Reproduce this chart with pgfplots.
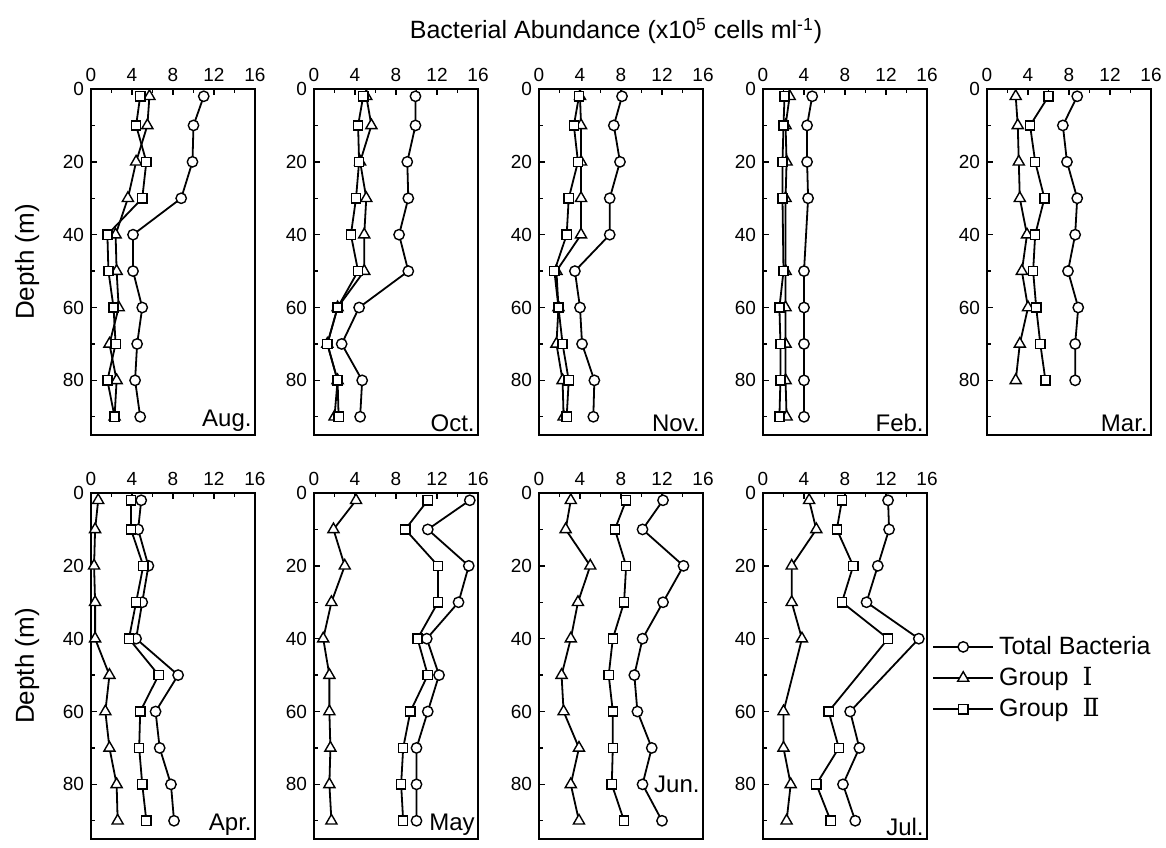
\documentclass[border=0pt]{standalone}
\usepackage{fontspec}
\setmainfont{Liberation Sans}
\newfontfamily\romfont{DejaVu Serif}
\usepackage{pgfplots}
\usepackage{pgfplotstable}
\pgfplotsset{compat=1.18}

% columns: depth, total bacteria, group I, group II
\pgfplotstableread{
d T G1 G2
2 11.0 5.7 4.8
10 10.0 5.5 4.4
20 9.9 4.4 5.4
30 8.8 3.6 5.0
40 4.1 2.4 1.6
50 4.1 2.5 1.7
60 5.0 2.7 2.2
70 4.5 1.8 2.4
80 4.3 2.5 1.6
90 4.8 2.3 2.3
}\aug
\pgfplotstableread{
d T G1 G2
2 9.9 5.1 4.8
10 9.9 5.6 4.3
20 9.1 4.5 4.4
30 9.2 5.1 4.1
40 8.3 4.9 3.6
50 9.2 4.9 4.3
60 4.4 2.3 2.3
70 2.7 1.3 1.3
80 4.7 2.3 2.3
90 4.5 2.0 2.4
}\oct
\pgfplotstableread{
d T G1 G2
2 8.1 4.0 3.9
10 7.3 4.1 3.4
20 7.9 4.1 3.8
30 6.9 4.1 2.9
40 6.9 4.1 2.7
50 3.5 1.7 1.5
60 4.0 1.9 1.9
70 4.2 1.7 2.3
80 5.4 2.3 2.9
90 5.3 2.4 2.7
}\nov
\pgfplotstableread{
d T G1 G2
2 4.8 2.6 2.1
10 4.3 2.2 2.0
20 4.3 2.3 1.9
30 4.4 2.2 1.9
50 4.0 2.2 2.0
60 4.0 2.2 1.6
70 4.0 2.2 1.7
80 4.0 2.2 1.7
90 4.0 2.3 1.6
}\feb
\pgfplotstableread{
d T G1 G2
2 8.8 2.8 6.0
10 7.4 3.0 4.2
20 7.8 3.1 4.7
30 8.8 3.2 5.6
40 8.6 3.9 4.7
50 7.9 3.4 4.5
60 8.9 4.0 4.8
70 8.6 3.2 5.2
80 8.6 2.8 5.7
}\mar
\pgfplotstableread{
d T G1 G2
2 4.9 0.7 3.9
10 4.6 0.4 3.9
20 5.6 0.3 5.1
30 5.0 0.4 4.4
40 4.4 0.4 3.7
50 8.5 1.8 6.6
60 6.3 1.4 4.8
70 6.7 1.8 4.7
80 7.8 2.5 5.0
90 8.1 2.6 5.4
}\apr
\pgfplotstableread{
d T G1 G2
2 15.2 4.1 11.1
10 11.1 1.9 8.9
20 15.1 3.0 12.1
30 14.1 1.7 12.1
40 11.0 0.9 10.1
50 12.2 1.5 11.1
60 11.1 1.5 9.4
70 10.0 1.6 8.7
80 10.0 1.5 8.5
90 10.0 1.7 8.7
}\may
\pgfplotstableread{
d T G1 G2
2 12.1 3.1 8.5
10 10.1 2.6 7.4
20 14.1 5.0 8.5
30 12.1 3.8 8.3
40 10.1 3.1 7.2
50 9.3 2.2 6.8
60 9.6 2.4 7.2
70 11.0 3.9 7.2
80 10.1 3.1 7.1
90 12.0 3.9 8.3
}\jun
\pgfplotstableread{
d T G1 G2
2 12.2 4.5 7.7
10 12.3 5.2 7.2
20 11.2 2.8 8.8
30 10.1 2.8 7.7
40 15.2 3.8 12.2
60 8.5 2.0 6.4
70 9.4 2.0 7.4
80 7.8 2.7 5.2
90 9.0 2.3 6.6
}\jul

\pgfplotsset{
 panel/.style={
  scale only axis, width=82pt, height=173pt,
  xmin=0, xmax=16, ymin=0, ymax=95, y dir=reverse,
  xtick={0,4,8,12,16}, minor x tick num=1,
  ytick={0,20,40,60,80}, minor ytick={10,30,50,70,90},
  xtick pos=upper, xticklabel pos=upper, ytick pos=left,
  tick align=inside, major tick length=3pt, minor tick length=2pt,
  axis line style={line width=1pt},
  every tick/.style={line width=0.7pt, black},
  tick label style={font=\fontsize{9.5}{11}\selectfont},
  /pgf/number format/assume math mode=true,
  clip=false,
  y label style={at={(axis description cs:-0.39,0.5)}, anchor=center, font=\fontsize{13}{15}\selectfont},
 },
 tb/.style={black, line width=0.9pt, mark=*, mark size=2.6pt, mark options={fill=white, line width=0.7pt}},
 g1/.style={black, line width=0.9pt, mark=triangle*, mark size=3.2pt, mark options={fill=white, line width=0.7pt}},
 g2/.style={black, line width=0.9pt, mark=square*, mark size=2.3pt, mark options={fill=white, line width=0.7pt}},
}
\newcommand{\monthlabel}[1]{\node[anchor=south east, inner sep=1.5pt, font=\fontsize{12}{14}\selectfont] at (axis description cs:1,0) {#1};}
\newcommand{\threeplots}[1]{%
  \addplot[tb] table[x=T,y=d] {#1};
  \addplot[g1] table[x=G1,y=d] {#1};
  \addplot[g2] table[x=G2,y=d] {#1};
}

\begin{document}
\begin{tikzpicture}
\useasboundingbox (0,0) rectangle (583pt,423.5pt);
\node[font=\fontsize{12.5}{15}\selectfont] at (308pt,408pt) {Bacterial Abundance (x10\textsuperscript{5} cells ml\textsuperscript{-1})};

\begin{axis}[panel, at={(45.5pt,379pt)}, anchor=north west, ylabel={Depth (m)}]
\threeplots{\aug}
\monthlabel{Aug.}
\end{axis}
\begin{axis}[panel, at={(157pt,379pt)}, anchor=north west]
\threeplots{\oct}
\monthlabel{Oct.}
\end{axis}
\begin{axis}[panel, at={(269.5pt,379pt)}, anchor=north west]
\threeplots{\nov}
\monthlabel{Nov.}
\end{axis}
\begin{axis}[panel, at={(381.5pt,379pt)}, anchor=north west]
\threeplots{\feb}
\monthlabel{Feb.}
\end{axis}
\begin{axis}[panel, at={(493.5pt,379pt)}, anchor=north west]
\threeplots{\mar}
\monthlabel{Mar.}
\end{axis}

\begin{axis}[panel, at={(45.5pt,177pt)}, anchor=north west, ylabel={Depth (m)}]
\threeplots{\apr}
\monthlabel{Apr.}
\end{axis}
\begin{axis}[panel, at={(157pt,177pt)}, anchor=north west]
\threeplots{\may}
\monthlabel{May}
\end{axis}
\begin{axis}[panel, at={(269.5pt,177pt)}, anchor=north west]
\threeplots{\jun}
\node[anchor=east, inner sep=1.5pt, font=\fontsize{12}{14}\selectfont] at (axis description cs:1,0.158) {Jun.};
\end{axis}
\begin{axis}[panel, at={(381.5pt,177pt)}, anchor=north west,
  legend style={draw=none, fill=none, at={(axis description cs:1.03,0.465)}, anchor=west,
    font=\fontsize{12.5}{14}\selectfont, row sep=0pt, inner sep=0pt,
    nodes={inner sep=2.5pt}},
  legend cell align=left,
  legend image code/.code={\draw[#1, mark repeat=2, mark phase=2] plot coordinates {(0pt,0pt)(15pt,0pt)(30pt,0pt)};}]
\threeplots{\jul}
\monthlabel{Jul.}
\legend{Total Bacteria, Group\ \ {\romfont Ⅰ}, Group\ \ {\romfont Ⅱ}}
\end{axis}
\end{tikzpicture}
\end{document}
